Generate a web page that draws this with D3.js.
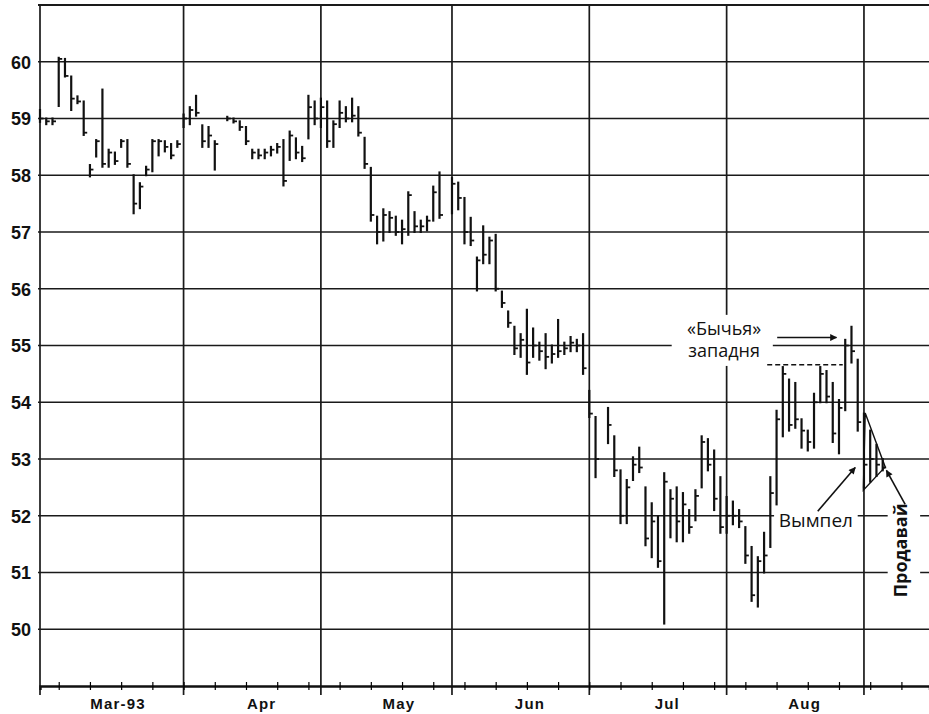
<!DOCTYPE html>
<html lang="ru">
<head>
    <meta charset="UTF-8">
    <title>Bar chart with pennant</title>
    <script src="https://d3js.org/d3.v7.min.js"></script>
    <style>
        body { margin: 0; background: #fff; }
        .axis text { font-family: "Liberation Sans", Arial, sans-serif; font-weight: bold; fill: #111; }
        .note { font-family: "Open Sans", "DejaVu Sans", sans-serif; fill: #111; }
    </style>
</head>
<body>
    <div class="BarChart"></div>

    <script>
        // x = weekday index counted from Mon 1 Mar 1993 (holidays left empty)
        const days   = [0,1,2,3,4,5,6,7,8,9,10,11,12,13,14,15,16,17,18,19,20,21,22,
                        23,24,25,26,27,28,30,31,32,33,34,35,36,37,38,39,40,41,42,43,44,
                        45,46,47,48,49,50,51,52,53,54,55,56,57,58,59,60,61,62,63,64,
                        66,67,68,69,70,71,72,73,74,75,76,77,78,79,80,81,82,83,84,85,86,87,
                        88,89,91,92,93,94,95,96,97,98,99,100,101,102,103,104,105,106,107,108,109,
                        110,111,112,113,114,115,116,117,118,119,120,121,122,123,124,125,126,127,128,129,130,131,
                        132,133,134,135];
        const highs  = [59.15,59.0,59.0,60.07,60.05,59.74,59.39,59.3,58.18,58.62,59.51,58.45,58.4,58.62,58.62,58.0,57.86,58.15,58.62,58.62,58.6,58.55,58.6,
                        59.07,59.2,59.4,58.88,58.85,58.6,59.03,59.0,58.95,58.85,58.45,58.45,58.45,58.5,58.55,58.62,58.77,58.65,58.5,59.4,59.3,
                        59.35,59.3,58.95,59.3,59.2,59.35,59.2,58.66,58.13,57.27,57.4,57.35,57.27,57.2,57.7,57.35,57.2,57.27,57.8,58.05,
                        57.95,57.87,57.6,57.25,56.55,57.1,56.9,56.95,55.95,55.6,55.33,55.2,55.63,55.3,55.05,55.2,55.0,55.45,55.05,55.15,55.1,55.2,
                        54.2,53.74,53.9,53.4,52.8,52.63,53.03,53.2,52.5,52.22,51.98,52.75,52.45,52.5,52.4,52.1,52.45,53.4,53.35,53.15,52.68,
                        52.33,52.25,52.1,51.8,51.45,51.27,51.7,52.68,53.85,54.62,54.4,54.34,53.7,53.5,54.15,54.62,54.55,54.34,54.04,55.1,55.33,54.75,
                        53.8,53.5,53.25,53.0];
        const lows   = [58.94,58.9,58.9,59.22,59.74,59.15,59.27,58.71,57.98,58.33,58.15,58.15,58.2,58.5,58.15,57.33,57.42,58.0,58.07,58.35,58.42,58.3,58.5,
                        58.85,58.9,59.05,58.5,58.5,58.1,58.97,58.93,58.8,58.55,58.3,58.3,58.3,58.35,58.4,57.82,58.27,58.3,58.25,58.65,58.9,
                        58.85,58.5,58.5,58.85,58.95,58.95,58.7,58.13,57.2,56.8,56.85,57.0,56.95,56.8,56.95,57.0,57.0,57.03,57.2,57.25,
                        57.33,57.4,56.8,56.77,55.97,56.45,56.45,55.97,55.68,55.33,54.85,54.8,54.5,54.8,54.75,54.6,54.7,54.8,54.85,54.9,54.9,54.5,
                        53.74,52.68,53.28,52.7,51.87,51.87,52.63,52.77,51.48,51.27,51.1,50.1,51.62,51.55,51.55,51.7,51.92,52.5,52.8,52.1,51.7,
                        51.7,51.85,51.8,51.17,50.5,50.4,51.0,51.45,52.2,53.4,53.5,53.55,53.2,53.15,53.2,54.0,54.0,53.3,53.1,53.86,54.7,53.5,
                        52.5,52.6,52.7,52.8];
        const closes = [59.0,58.95,58.95,60.05,59.75,59.35,59.3,58.75,58.1,58.6,58.2,58.4,58.25,58.6,58.2,57.5,57.8,58.1,58.6,58.6,58.5,58.35,58.55,
                        59.0,59.15,59.1,58.6,58.7,58.55,59.0,58.95,58.85,58.6,58.4,58.35,58.4,58.45,58.5,57.9,58.7,58.4,58.3,59.2,59.0,
                        59.2,58.6,58.9,59.1,59.0,59.05,58.75,58.2,57.3,57.0,57.3,57.25,57.0,57.05,57.65,57.1,57.1,57.2,57.7,57.3,
                        57.85,57.6,57.0,56.85,56.5,56.6,56.85,56.0,55.75,55.4,54.95,55.1,54.7,55.0,54.9,54.8,54.85,54.9,54.95,55.05,55.0,54.6,
                        53.8,53.0,53.6,52.8,52.0,52.5,52.9,52.85,51.6,51.9,51.2,52.6,52.3,51.9,52.2,51.8,52.35,53.3,52.9,52.3,51.8,
                        52.0,52.0,51.9,51.3,50.6,51.2,51.3,52.4,53.7,54.5,53.6,53.7,53.5,53.3,54.0,54.5,54.1,53.45,53.9,55.0,54.9,53.65,
                        52.9,53.0,52.9,52.85];

        const monthStarts = [0, 23, 45, 66, 88, 110, 132];
        const monthLabels = ["Mar-93", "Apr", "May", "Jun", "Jul", "Aug"];
        const weekTicks = d3.range(3, 143, 5);   // Thursdays
        const priceTicks = [50, 51, 52, 53, 54, 55, 56, 57, 58, 59, 60];

        const data = days.map((d, i) => ({day: d, high: highs[i], low: lows[i], close: closes[i]}));

        const svgWidth = 929;
        const svgHeight = 714;

        const svg = d3.select('.BarChart')
            .append('svg')
            .attr('width', svgWidth)
            .attr('height', svgHeight);

        const xScale = d3.scaleLinear().domain([0, 142.5]).range([40, 929.5]);
        const yScale = d3.scaleLinear().domain([49, 61]).range([686, 5]);

        // horizontal grid
        svg.append('g').selectAll('line')
            .data(d3.range(50, 62))
            .enter().append('line')
            .attr('x1', 38).attr('x2', svgWidth)
            .attr('y1', d => yScale(d)).attr('y2', d => yScale(d))
            .attr('stroke', '#1a1a1a')
            .attr('stroke-width', d => d === 61 ? 2.2 : 1.5);

        // month lines
        svg.append('g').selectAll('line')
            .data(monthStarts)
            .enter().append('line')
            .attr('x1', d => xScale(d)).attr('x2', d => xScale(d))
            .attr('y1', yScale(61)).attr('y2', yScale(49) + 9)
            .attr('stroke', '#1a1a1a')
            .attr('stroke-width', 1.7);

        // y axis labels
        const yAxis = svg.append('g')
            .attr('class', 'axis')
            .attr('transform', `translate(${xScale(0)},0)`)
            .call(d3.axisLeft(yScale).tickValues(priceTicks).tickSize(0).tickPadding(9).tickFormat(d3.format('d')));
        yAxis.select('.domain').remove();
        yAxis.selectAll('text').style('font-size', '18px').attr('dy', '0.36em');

        // x axis
        const xAxis = svg.append('g')
            .attr('class', 'axis')
            .attr('transform', `translate(0,${yScale(49)})`)
            .call(d3.axisBottom(xScale).tickValues(weekTicks).tickSize(4).tickFormat(''));
        xAxis.select('.domain').attr('stroke', '#111').attr('stroke-width', 2.4);
        xAxis.selectAll('.tick line').attr('y1', -4).attr('stroke-width', 1.2);

        svg.append('g').attr('class', 'axis').selectAll('text')
            .data(monthLabels)
            .enter().append('text')
            .attr('x', (d, i) => xScale(monthStarts[i] + 12.5))
            .attr('y', 709)
            .attr('text-anchor', 'middle')
            .style('font-size', '15px')
            .style('letter-spacing', '1.2px')
            .text(d => d);

        // price bars
        const bars = svg.append('g').attr('stroke', '#111').attr('stroke-width', 2.2);
        bars.selectAll('.hl')
            .data(data)
            .enter().append('line')
            .attr('x1', d => xScale(d.day)).attr('x2', d => xScale(d.day))
            .attr('y1', d => yScale(d.high) - 1).attr('y2', d => yScale(d.low) + 1);
        bars.selectAll('.cl')
            .data(data)
            .enter().append('line')
            .attr('x1', d => xScale(d.day)).attr('x2', d => xScale(d.day) + 3.5)
            .attr('y1', d => yScale(d.close)).attr('y2', d => yScale(d.close))
            .attr('stroke-width', 1.8);

        // annotations
        svg.append('defs').append('marker')
            .attr('id', 'head')
            .attr('viewBox', '0 0 10 10')
            .attr('refX', 9).attr('refY', 5)
            .attr('markerWidth', 9).attr('markerHeight', 7)
            .attr('markerUnits', 'userSpaceOnUse')
            .attr('orient', 'auto')
            .append('path').attr('d', 'M0,0 L10,5 L0,10 z').attr('fill', '#111');

        const ann = svg.append('g');
        const box = (x0, x1, p0, p1) => ann.append('rect')
            .attr('x', xScale(x0)).attr('width', xScale(x1) - xScale(x0))
            .attr('y', yScale(p0)).attr('height', yScale(p1) - yScale(p0))
            .attr('fill', '#fff');
        const arrow = (x0, p0, x1, p1) => ann.append('line')
            .attr('x1', xScale(x0)).attr('y1', yScale(p0))
            .attr('x2', xScale(x1)).attr('y2', yScale(p1))
            .attr('stroke', '#111').attr('stroke-width', 1.6)
            .attr('marker-end', 'url(#head)');

        // bull trap
        box(101.2, 117.4, 55.54, 54.64);
        ann.append('text').attr('class', 'note')
            .attr('x', xScale(109.6)).attr('y', yScale(55.19))
            .attr('text-anchor', 'middle').style('font-size', '18px').text('«Бычья»');
        ann.append('text').attr('class', 'note')
            .attr('x', xScale(109.6)).attr('y', yScale(54.8))
            .attr('text-anchor', 'middle').style('font-size', '18px').text('западня');
        arrow(118.1, 55.14, 127.6, 55.14);
        ann.append('line')
            .attr('x1', xScale(116.5)).attr('x2', xScale(128.6))
            .attr('y1', yScale(54.66)).attr('y2', yScale(54.66))
            .attr('stroke', '#111').attr('stroke-width', 1.4)
            .attr('stroke-dasharray', '5,3');

        // pennant
        const pennant = [[132.2, 53.81], [135.4, 52.86], [131.9, 52.45]];
        ann.append('path')
            .attr('d', d3.line().x(d => xScale(d[0])).y(d => yScale(d[1]))(pennant) + 'Z')
            .attr('fill', 'none').attr('stroke', '#111').attr('stroke-width', 1.4);

        box(117.6, 131, 52.15, 51.68);
        ann.append('text').attr('class', 'note')
            .attr('x', xScale(124.3)).attr('y', yScale(51.8))
            .attr('text-anchor', 'middle').style('font-size', '19px').text('Вымпел');
        arrow(124.6, 52.08, 130.6, 52.85);

        box(135.8, 141, 52.3, 50.15);
        ann.append('text').attr('class', 'note')
            .attr('transform', `translate(${xScale(137.95)},${yScale(51.39)}) rotate(-90)`)
            .attr('text-anchor', 'middle').attr('dy', '0.35em')
            .style('font-size', '18px').style('font-weight', 'bold').text('Продавай');
        arrow(138.6, 52.2, 135.6, 52.8);
    </script>
</body>
</html>
